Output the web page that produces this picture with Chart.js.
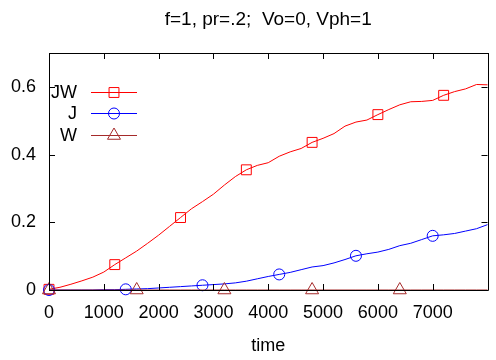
<!DOCTYPE html>
<html><head><meta charset="utf-8">
<script src="https://cdn.jsdelivr.net/npm/chart.js@4/dist/chart.umd.min.js"></script>
<style>
html,body{margin:0;padding:0;background:#fff;overflow:hidden;width:496px;height:360px}
#wrap{width:500px;height:360px}
</style></head>
<body><div id="wrap"><canvas id="c" width="500" height="360"></canvas></div>
<script>
const titleText = 'f=1, pr=.2;  Vo=0, Vph=1';
const xLabel = 'time';
const time = [0,200,400,600,800,1000,1200,1400,1600,1800,2000,2200,2400,2600,2800,3000,3200,3400,3600,3800,4000,4200,4400,4600,4800,5000,5200,5400,5600,5800,6000,6200,6400,6600,6800,7000,7200,7400,7600,7800,8000];
const JW = [0.002,0.008,0.017,0.027,0.038,0.053,0.075,0.095,0.115,0.138,0.162,0.188,0.214,0.240,0.261,0.283,0.310,0.335,0.355,0.368,0.376,0.395,0.408,0.418,0.436,0.448,0.462,0.484,0.496,0.502,0.518,0.533,0.547,0.556,0.557,0.560,0.575,0.586,0.594,0.607,0.606];
const J = [0,0,0,0,0,0.001,0.001,0.002,0.003,0.004,0.006,0.008,0.010,0.012,0.014,0.016,0.018,0.021,0.026,0.033,0.040,0.046,0.052,0.060,0.068,0.072,0.080,0.090,0.101,0.107,0.112,0.120,0.131,0.138,0.149,0.160,0.163,0.167,0.174,0.181,0.193];
const W = [0,0,0,0,0,0,0,0,0,0,0,0,0,0,0,0,0,0,0,0,0,0,0,0,0,0,0,0,0,0,0,0,0,0,0,0,0,0,0,0,0];
const seriesNames = ['JW','J','W'];
const markerStep = [1200,1400,1600];
const markerLast = 7400;
const xTicks = [0,1000,2000,3000,4000,5000,6000,7000,8000];
const yTicks = [0,0.2,0.4,0.6];

const FONT = '"Liberation Sans", Arial, sans-serif';
const colors = ['#ff0000','#0000ff','#a52a2a'];
const styles = ['rect','circle','triangle'];
const radii = [7,5.5,7.5];
const values = [JW,J,W];

const datasets = seriesNames.map((name,k)=>({
  label: name,
  data: time.map((t,i)=>({x:t,y:values[k][i]})),
  borderColor: colors[k],
  borderWidth: 1,
  pointStyle: styles[k],
  pointRadius: ctx => {
    const t = time[ctx.dataIndex];
    return (t % markerStep[k] === 0 && t <= markerLast) ? radii[k] : 0;
  },
  pointHoverRadius: 0,
  pointBorderColor: colors[k],
  pointBackgroundColor: 'rgba(0,0,0,0)',
  pointBorderWidth: 1,
  tension: 0,
  clip: false,
  order: 3-k
}));

const frame = {
  id:'frame',
  afterDatasetsDraw(chart){
    const {ctx, chartArea:a, scales:{x,y}} = chart;
    ctx.save();
    ctx.strokeStyle = '#000';
    ctx.lineWidth = 1;
    ctx.beginPath();
    ctx.rect(Math.round(a.left)+0.5, Math.round(a.top)+0.5, Math.round(a.right-a.left), Math.round(a.bottom-a.top));
    const L = 6;
    xTicks.forEach(v=>{
      const px = Math.round(x.getPixelForValue(v))+0.5;
      ctx.moveTo(px, a.bottom); ctx.lineTo(px, a.bottom-L);
      ctx.moveTo(px, a.top); ctx.lineTo(px, a.top+L);
    });
    yTicks.forEach(v=>{
      const py = Math.round(y.getPixelForValue(v))+0.5;
      ctx.moveTo(a.left, py); ctx.lineTo(a.left+L, py);
      ctx.moveTo(a.right, py); ctx.lineTo(a.right-L, py);
    });
    ctx.stroke();
    // legend
    ctx.font = '18px ' + FONT;
    ctx.textAlign = 'right';
    ctx.textBaseline = 'middle';
    const rows = [92,113,135];
    chart.data.datasets.forEach((ds,k)=>{
      const yy = rows[k];
      ctx.fillStyle = '#000';
      ctx.fillText(ds.label, 77, yy+1);
      ctx.strokeStyle = colors[k];
      ctx.lineWidth = 1;
      ctx.beginPath();
      ctx.moveTo(91, yy+0.5); ctx.lineTo(137, yy+0.5);
      ctx.stroke();
      ctx.fillStyle = 'rgba(0,0,0,0)';
      Chart.helpers.drawPoint(ctx, {pointStyle: styles[k], radius: radii[k], borderWidth:1}, 114, yy+0.5);
    });
    ctx.restore();
  }
};

new Chart(document.getElementById('c'), {
  type: 'line',
  data: { datasets },
  plugins: [frame],
  options: {
    responsive: false,
    animation: false,
    events: [],
    layout: { padding: { left: 0, right: 2, top: 0, bottom: 0 } },
    plugins: {
      legend: { display: false },
      tooltip: { enabled: false },
      title: {
        display: true, text: titleText, color: '#000', fullSize: false,
        font: { family: FONT, size: 19, weight: 'normal' },
        padding: { top: 8.6, bottom: 21.6 }
      }
    },
    scales: {
      x: {
        type: 'linear', min: 0, max: 8000,
        afterBuildTicks: s => { s.ticks = xTicks.map(v=>({value:v})); },
        afterFit: s => { s.height = 70; },
        ticks: { color: '#000', font: { family: FONT, size: 18 }, padding: 12.5, maxRotation: 0,
                 callback: v => (v > 7000 ? '' : String(v)) },
        grid: { display: false, drawTicks: false },
        border: { display: false },
        title: { display: true, text: xLabel, color: '#000', font: { family: FONT, size: 18 }, padding: { top: 0, bottom: 3 } }
      },
      y: {
        type: 'linear', min: 0, max: 0.7,
        afterBuildTicks: s => { s.ticks = yTicks.map(v=>({value:v})); },
        afterFit: s => { s.width = 49; },
        ticks: { color: '#000', font: { family: FONT, size: 18 }, padding: 13,
                 callback: v => String(v) },
        grid: { display: false, drawTicks: false },
        border: { display: false }
      }
    }
  }
});
</script>
</body></html>
